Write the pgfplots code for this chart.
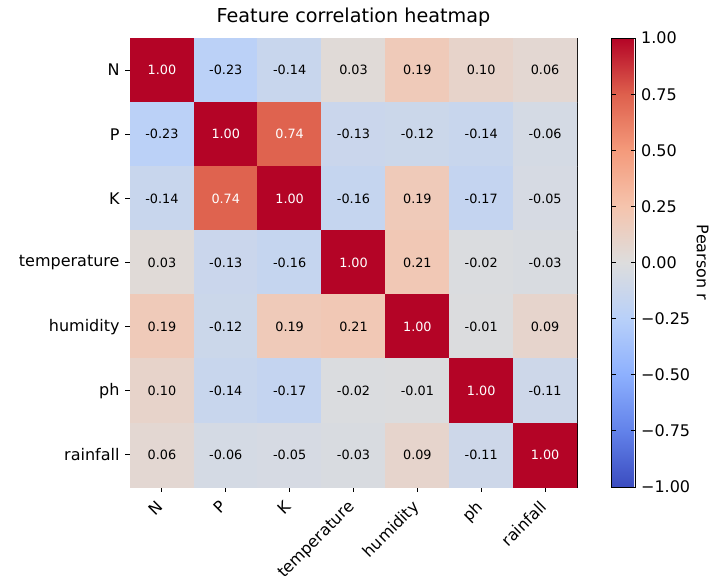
\documentclass[border=0pt]{standalone}
\usepackage{pgfplots}
\usepackage{pgfplotstable}
\pgfplotsset{compat=1.18}
\usepackage{fontspec}
\setmainfont{DejaVu Sans}

\pgfplotsset{
  colormap={coolwarm}{
    rgb255(0)=(59,76,192)
    rgb255(1)=(98,130,234)
    rgb255(2)=(141,176,254)
    rgb255(3)=(184,208,249)
    rgb255(4)=(221,221,221)
    rgb255(5)=(245,196,173)
    rgb255(6)=(244,154,123)
    rgb255(7)=(222,96,77)
    rgb255(8)=(180,4,38)
  }
}

\pgfplotstableread{
x y c
0 0 1.00
1 0 -0.23
2 0 -0.14
3 0 0.03
4 0 0.19
5 0 0.10
6 0 0.06
0 1 -0.23
1 1 1.00
2 1 0.74
3 1 -0.13
4 1 -0.12
5 1 -0.14
6 1 -0.06
0 2 -0.14
1 2 0.74
2 2 1.00
3 2 -0.16
4 2 0.19
5 2 -0.17
6 2 -0.05
0 3 0.03
1 3 -0.13
2 3 -0.16
3 3 1.00
4 3 0.21
5 3 -0.02
6 3 -0.03
0 4 0.19
1 4 -0.12
2 4 0.19
3 4 0.21
4 4 1.00
5 4 -0.01
6 4 0.09
0 5 0.10
1 5 -0.14
2 5 -0.17
3 5 -0.02
4 5 -0.01
5 5 1.00
6 5 -0.11
0 6 0.06
1 6 -0.06
2 6 -0.05
3 6 -0.03
4 6 0.09
5 6 -0.11
6 6 1.00
}\corr

\begin{document}
\begin{tikzpicture}
\begin{axis}[
  at={(0,0)}, anchor=south west,
  scale only axis,
  width=279.4pt, height=280.6pt,
  xmin=-0.5, xmax=6.5, ymin=-0.5, ymax=6.5,
  y dir=reverse,
  axis line style={line width=0.6pt},
  tick pos=left, tick align=outside,
  major tick length=3pt,
  tick style={black, line width=0.6pt},
  xtick={0,...,6}, ytick={0,...,6},
  xticklabels={N,P,K,temperature,humidity,ph,rainfall},
  yticklabels={N,P,K,temperature,humidity,ph,rainfall},
  xticklabel style={rotate=45, anchor=north east, font=\fontsize{10}{12}\selectfont, inner sep=1pt, xshift=-5pt, yshift=0.5pt},
  yticklabel style={font=\fontsize{10}{12}\selectfont},
  title={Feature correlation heatmap},
  title style={font=\fontsize{12}{14}\selectfont, yshift=-2pt},
  colormap name=coolwarm,
  point meta min=-1, point meta max=1,
  colorbar,
  colorbar style={
    at={(parent axis.north east)}, anchor=north west, xshift=13pt,
    width=15pt,
    axis line style={line width=0.6pt},
    ytick={-1,-0.75,-0.5,-0.25,0,0.25,0.5,0.75,1},
    yticklabels={−1.00,−0.75,−0.50,−0.25,0.00,0.25,0.50,0.75,1.00},
    yticklabel style={font=\fontsize{10}{12}\selectfont},
    major tick length=3pt,
    tick style={black, line width=0.6pt},
    ylabel={Pearson r},
    ylabel style={at={(rel axis cs:3.8,0.5)}, anchor=center, rotate=180, font=\fontsize{10}{12}\selectfont},
  },
  /pgf/number format/assume math mode=true,
]
\addplot[matrix plot*, mesh/cols=7, point meta=explicit] table[x=x, y=y, meta=c] {\corr};
\addplot[only marks, mark=*, mark size=0pt, mark options={draw=none, fill=none},
  restrict expr to domain={\thisrow{c}}{0.5:1.5},
  point meta=\thisrow{c},
  nodes near coords={\pgfmathprintnumber[fixed, fixed zerofill, precision=2]{\pgfplotspointmeta}},
  nodes near coords align=center,
  nodes near coords style={text=white, font=\fontsize{8}{10}\selectfont}
] table[x=x, y=y] {\corr};
\addplot[only marks, mark=*, mark size=0pt, mark options={draw=none, fill=none},
  restrict expr to domain={\thisrow{c}}{-1.5:0.5},
  point meta=\thisrow{c},
  nodes near coords={\pgfmathprintnumber[fixed, fixed zerofill, precision=2]{\pgfplotspointmeta}},
  nodes near coords align=center,
  nodes near coords style={text=black, font=\fontsize{8}{10}\selectfont}
] table[x=x, y=y] {\corr};
\end{axis}
\pgfresetboundingbox
\path[use as bounding box] (-81.25pt,-59.4pt) rectangle (361.9pt,304.4pt);
\end{tikzpicture}
\end{document}
